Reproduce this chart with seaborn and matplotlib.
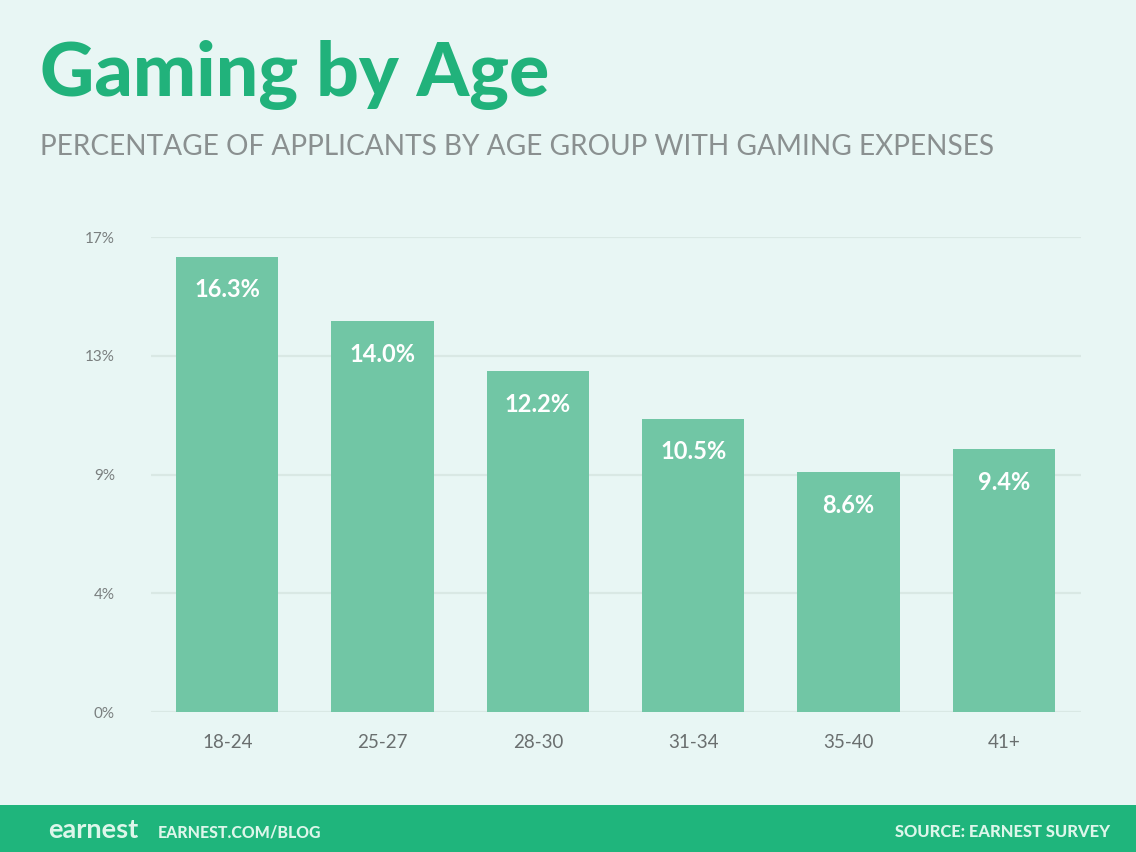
import matplotlib
matplotlib.use("Agg")
import matplotlib.pyplot as plt
import seaborn as sns
import pandas as pd
from matplotlib.patches import Rectangle

# Data
categories = ["18-24", "25-27", "28-30", "31-34", "35-40", "41+"]
values = [16.3, 14.0, 12.2, 10.5, 8.6, 9.4]
value_labels = ["16.3%", "14.0%", "12.2%", "10.5%", "8.6%", "9.4%"]
ytick_values = [0, 4.25, 8.5, 12.75, 17]
ytick_labels = ["0%", "4%", "9%", "13%", "17%"]

BG = "#e8f6f4"
BAR = "#71c6a5"
GREEN = "#21b27b"
FOOTER = "#1fb57c"

sns.set_theme(style="white")
plt.rcParams["font.family"] = ["Lato", "DejaVu Sans"]

df = pd.DataFrame({"age": categories, "pct": values})

fig = plt.figure(figsize=(11.36, 8.52), dpi=100, facecolor=BG)
ax = fig.add_axes([0.133, 0.1643, 0.819, 0.5575])
ax.set_facecolor(BG)

sns.barplot(data=df, x="age", y="pct", color=BAR, saturation=1,
            width=0.66, linewidth=0, ax=ax, zorder=3)

ax.set_xlim(-0.49, 5.5)
ax.set_ylim(0, 17)
ax.set_yticks(ytick_values)
ax.set_yticklabels(ytick_labels)
ax.yaxis.grid(True, color="#d9e8e4", linewidth=1.6, zorder=0)
ax.set_axisbelow(True)
for s in ax.spines.values():
    s.set_visible(False)
ax.set_xlabel("")
ax.set_ylabel("")
ax.tick_params(axis="y", length=0, pad=26, labelsize=11, labelcolor="#7a7f7f")
ax.tick_params(axis="x", length=0, pad=16, labelsize=13.5, labelcolor="#6a6f6f")

# Value labels inside the bars
for i, (v, t) in enumerate(zip(values, value_labels)):
    ax.annotate(t, xy=(i, v), xytext=(0, -24), textcoords="offset points",
                ha="center", va="center", color="white", fontsize=17,
                fontweight="bold", zorder=5)

# Title and subtitle
fig.text(40 / 1136, 1 - 75 / 852, "Gaming by Age", color=GREEN,
         fontsize=54, fontweight="black", ha="left", va="center")
fig.text(40 / 1136, 1 - 147 / 852,
         "PERCENTAGE OF APPLICANTS BY AGE GROUP WITH GAMING EXPENSES",
         color="#8a9090", fontsize=20.2, ha="left", va="center")

# Footer band
fig.patches.append(Rectangle((0, 0), 1, 47 / 852, transform=fig.transFigure,
                             facecolor=FOOTER, edgecolor="none", zorder=0))
fig.text(48 / 1136, 1 - 830 / 852, "earnest", color="#dcf6ea", fontsize=19.5,
         fontweight="bold", ha="left", va="center")
fig.text(158 / 1136, 1 - 832 / 852, "EARNEST.COM/BLOG", color="#dcf6ea",
         fontsize=11.4, fontweight="black", ha="left", va="center")
fig.text(1110 / 1136, 1 - 832 / 852, "SOURCE: EARNEST SURVEY", color="#dcf6ea",
         fontsize=11.9, fontweight="black", ha="right", va="center")

fig.savefig("out.png", dpi=100, facecolor=BG)
